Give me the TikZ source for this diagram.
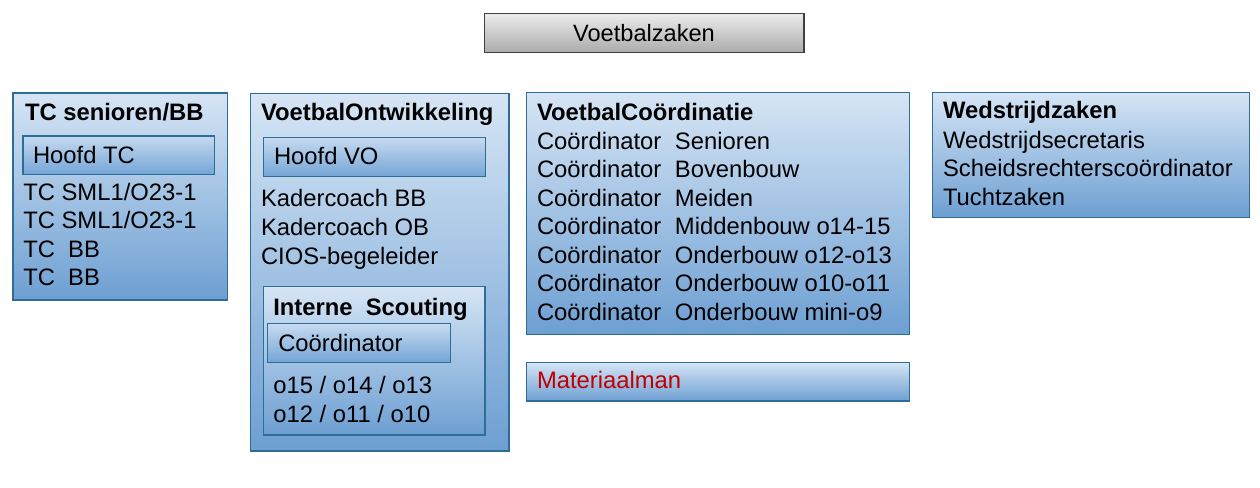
\documentclass[tikz,border=0pt]{standalone}
\usepackage{fontspec}
\setmainfont{Liberation Sans}
\definecolor{bluetop}{HTML}{D6E5F5}
\definecolor{bluebot}{HTML}{6D9FD2}
\definecolor{innertop}{HTML}{C6DAF0}
\definecolor{innerbot}{HTML}{74A5D6}
\definecolor{bluebrd}{HTML}{2E6E96}
\definecolor{greytop}{HTML}{ECECEC}
\definecolor{greybot}{HTML}{ABABAB}
\definecolor{greybrd}{HTML}{404040}
\definecolor{matred}{HTML}{C00000}
\begin{document}
\begin{tikzpicture}[x=1pt,y=-1pt,
  box/.style={draw=bluebrd,line width=1.4pt,top color=bluetop,bottom color=bluebot,
    rectangle,inner sep=0pt,outer sep=0pt,anchor=north west},
  innerbox/.style={draw=bluebrd,line width=1.4pt,top color=innertop,bottom color=innerbot,
    rectangle,inner sep=0pt,outer sep=0pt,anchor=north west},
  greybox/.style={draw=greybrd,line width=1.2pt,top color=greytop,bottom color=greybot,
    rectangle,inner sep=0pt,outer sep=0pt,anchor=north west},
  txt/.style={anchor=base west,inner sep=0pt,outer sep=0pt,
    font=\fontsize{23.8}{28.6}\selectfont},
  btxt/.style={txt,font=\fontsize{23.8}{28.6}\selectfont\bfseries}
]
\useasboundingbox (0,0) rectangle (1260,487);

% Top
\node[greybox,minimum width=319.5pt,minimum height=39.4pt] (vz) at (484.5,13.3) {};
\node[anchor=base,inner sep=0pt,font=\fontsize{23.6}{28}\selectfont] (vzt) at (644,41.5) {Voetbalzaken};

% TC senioren/BB
\node[box,minimum width=214.5pt,minimum height=207.3pt] (tc) at (12.8,92.8) {};
\node[btxt] (tch) at (25,120.7) {TC senioren/BB};
\node[innerbox,minimum width=191.4pt,minimum height=38.6pt] (htc) at (22.8,135.8) {};
\node[txt] (htct) at (33,163.3) {Hoofd TC};
\node[txt] (tc1) at (23.3,200) {TC SML1/O23-1};
\node[txt] (tc2) at (23.3,228.5) {TC SML1/O23-1};
\node[txt] (tc3) at (23.3,257) {TC~~BB};
\node[txt] (tc4) at (23.3,285.5) {TC~~BB};

% VoetbalOntwikkeling
\node[box,minimum width=258.3pt,minimum height=357.7pt] (vo) at (250.7,93.3) {};
\node[btxt] (voh) at (261,120.7) {VoetbalOntwikkeling};
\node[innerbox,minimum width=222.4pt,minimum height=39pt] (hvo) at (263.3,137.7) {};
\node[txt] (hvot) at (274,164.3) {Hoofd VO};
\node[txt] (kc1) at (261,206.7) {Kadercoach BB};
\node[txt] (kc2) at (261,235.5) {Kadercoach OB};
\node[txt] (cios) at (261,264.3) {CIOS-begeleider};
\node[box,minimum width=221.7pt,minimum height=148.3pt] (is) at (263.3,286.7) {};
\node[btxt] (ist) at (273.3,315) {Interne~~Scouting};
\node[innerbox,minimum width=183pt,minimum height=39pt] (isc) at (267.7,323.7) {};
\node[txt] (isct) at (278.3,351.7) {Coördinator};
\node[txt] (o1) at (273.3,393.3) {o15 / o14 / o13};
\node[txt] (o2) at (273.3,422.3) {o12 / o11 / o10};

% VoetbalCoordinatie
\node[box,minimum width=383pt,minimum height=242pt] (vc) at (526.3,92.3) {};
\node[btxt] (vch) at (537,120) {VoetbalCoördinatie};
\node[txt] (c1) at (537,149) {\makebox[138pt][l]{Coördinator}Senioren};
\node[txt] (c2) at (537,177.5) {\makebox[138pt][l]{Coördinator}Bovenbouw};
\node[txt] (c3) at (537,206) {\makebox[138pt][l]{Coördinator}Meiden};
\node[txt] (c4) at (537,234.5) {\makebox[138pt][l]{Coördinator}Middenbouw o14-15};
\node[txt] (c5) at (537,263) {\makebox[138pt][l]{Coördinator}Onderbouw o12-o13};
\node[txt] (c6) at (537,291.5) {\makebox[138pt][l]{Coördinator}Onderbouw o10-o11};
\node[txt] (c7) at (537,320) {\makebox[138pt][l]{Coördinator}Onderbouw mini-o9};

% Materiaalman
\node[box,minimum width=383pt,minimum height=38.7pt] (mm) at (526.3,362.3) {};
\node[txt,text=matred] (mmt) at (537,388.5) {Materiaalman};

% Wedstrijdzaken
\node[box,minimum width=317pt,minimum height=125pt] (wz) at (932.3,92.3) {};
\node[btxt] (wzh) at (943,118.5) {Wedstrijdzaken};
\node[txt] (w1) at (943,148) {Wedstrijdsecretaris};
\node[txt] (w2) at (943,176.7) {Scheidsrechterscoördinator};
\node[txt] (w3) at (943,205.3) {Tuchtzaken};
\end{tikzpicture}
\end{document}
